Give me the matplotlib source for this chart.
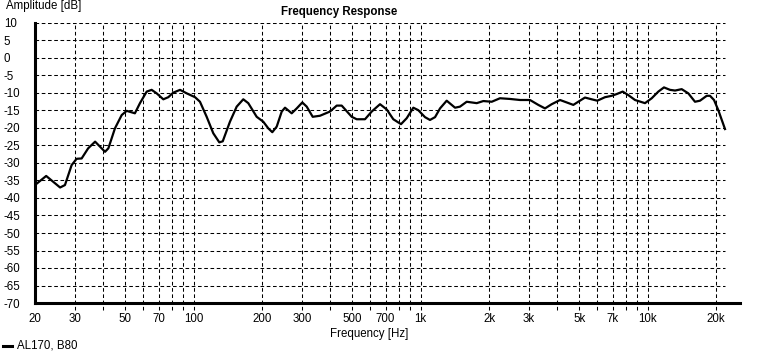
"""Frequency response plot (AL170, B80)."""

import matplotlib
matplotlib.use("Agg")
import matplotlib.pyplot as plt

# ── Data ─────────────────────────────────────────────────────────────────────

freq_hz = [
    20, 22.4, 25.8, 27.1, 29.0, 30.5, 32.1, 34.3, 36.8, 40.7, 42.1, 45.0,
    48.2, 50.7, 55.1, 58.0, 62.1, 65.3, 68.7, 73.5, 77.3, 81.3, 87.1, 93.2,
    101.4, 106.6, 114.1, 122.0, 129.7, 134.3, 144.5, 154.7, 165.4, 174.0,
    189.5, 202.6, 213.2, 222.0, 232.2, 244.3, 252.6, 270.3, 284.4, 301.0,
    314.8, 334.5, 360.1, 398.6, 426.7, 448.9, 496.9, 522.7, 568.5, 608.5,
    662.1, 708.6, 757.6, 819.2, 867.9, 928.0, 976, 1045, 1099, 1157, 1217,
    1302, 1417, 1490, 1595, 1766, 1888, 2056, 2236, 2475, 2740, 3031, 3298,
    3530, 3778, 4111, 4399, 4704, 4946, 5294, 5666, 5999, 6486, 6942, 7304,
    7762, 8217, 8795, 9732, 10420, 11140, 11800, 12540, 13200, 14120, 15100,
    16160, 17000, 18200, 18820, 19600, 20470, 21910,
]
level_db = [
    -36.3, -33.7, -37.0, -36.3, -30.6, -28.8, -28.7, -25.8, -23.9, -26.8,
    -25.8, -20.1, -16.3, -15.1, -15.8, -12.9, -9.6, -9.1, -10.1, -11.8,
    -11.2, -9.9, -9.1, -10.1, -11.2, -12.5, -16.8, -21.5, -24.1, -23.8,
    -18.2, -13.9, -11.8, -12.9, -16.8, -18.2, -20.1, -21.2, -19.6, -15.3,
    -14.2, -15.8, -14.4, -12.7, -13.9, -16.8, -16.5, -15.3, -13.6, -13.6,
    -16.8, -17.5, -17.5, -15.3, -13.2, -14.7, -17.5, -18.9, -17.2, -14.2,
    -14.9, -16.9, -17.7, -16.9, -14.4, -12.2, -14.2, -13.9, -12.5, -12.9,
    -12.3, -12.5, -11.5, -11.7, -12.0, -12.0, -13.4, -14.4, -13.2, -12.0,
    -12.7, -13.4, -12.5, -11.3, -11.8, -12.2, -11.2, -10.8, -10.3, -9.6,
    -10.6, -12.0, -12.9, -11.5, -9.6, -8.4, -9.1, -9.3, -8.9, -10.1, -12.5,
    -12.2, -10.8, -10.8, -12.0, -14.9, -20.3,
]

grid_freqs = [30, 40, 50, 60, 70, 80, 90, 100, 200, 300, 400, 500, 600, 700,
              800, 900, 1000, 2000, 3000, 4000, 5000, 6000, 7000, 8000, 9000,
              10000, 20000]
x_ticks = [20, 30, 50, 70, 100, 200, 300, 500, 700, 1000, 2000, 3000, 5000,
           7000, 10000, 20000]
x_labels = ["20", "30", "50", "70", "100", "200", "300", "500", "700", "1k",
            "2k", "3k", "5k", "7k", "10k", "20k"]
y_ticks = list(range(-70, 15, 5))

# ── Figure ───────────────────────────────────────────────────────────────────

W, H = 775, 354
FONT = "Liberation Sans"
FS = 8.3
DASH = (0, (3.5, 2.5))

fig = plt.figure(figsize=(W / 100, H / 100), dpi=100, facecolor="white")
ax = fig.add_axes([35 / W, 51 / H, 705 / W, 280 / H])
ax.set_xscale("log")
ax.set_xlim(20, 25510)
ax.set_ylim(-70, 10)

# grid
ax.hlines(y_ticks[1:], 20, 21900, colors="black", linewidth=0.75,
          linestyles=DASH, zorder=1)
ax.vlines(grid_freqs, -72.1, 10, colors="black", linewidth=0.75,
          linestyles=DASH, zorder=1, clip_on=False)

ax.plot(freq_hz, level_db, color="black", linewidth=1.6, zorder=3,
        solid_joinstyle="round")

for side in ("top", "right"):
    ax.spines[side].set_visible(False)
for side in ("left", "bottom"):
    ax.spines[side].set_linewidth(2.2)
    ax.spines[side].set_zorder(4)

ax.set_xticks(x_ticks)
ax.set_xticklabels(x_labels, fontsize=FS, fontfamily=FONT)
ax.xaxis.set_minor_locator(matplotlib.ticker.NullLocator())
ax.tick_params(axis="x", length=0, pad=7)

ax.set_yticks(y_ticks)
ax.set_yticklabels([str(v) for v in y_ticks], fontsize=FS, fontfamily=FONT,
                   ha="left")
ax.tick_params(axis="y", length=0, pad=22.5)

# texts
fig.text(339 / W, 1 - 12 / H, "Frequency Response", ha="center",
         va="center", fontsize=FS, fontweight="bold", fontfamily=FONT)
fig.text(6 / W, 1 - 6.5 / H, "Amplitude [dB]", ha="left", va="center",
         fontsize=FS, fontfamily=FONT)
fig.text(369 / W, 1 - 334 / H, "Frequency [Hz]", ha="center", va="center",
         fontsize=FS, fontfamily=FONT)

# legend
fig.add_artist(plt.Line2D([3 / W, 12 / W], [1 - 346 / H, 1 - 346 / H],
                          color="black", linewidth=2.2))
fig.text(17 / W, 1 - 346 / H, "AL170, B80", ha="left", va="center",
         fontsize=FS, fontfamily=FONT)

fig.savefig("out.png", dpi=100, facecolor="white")
